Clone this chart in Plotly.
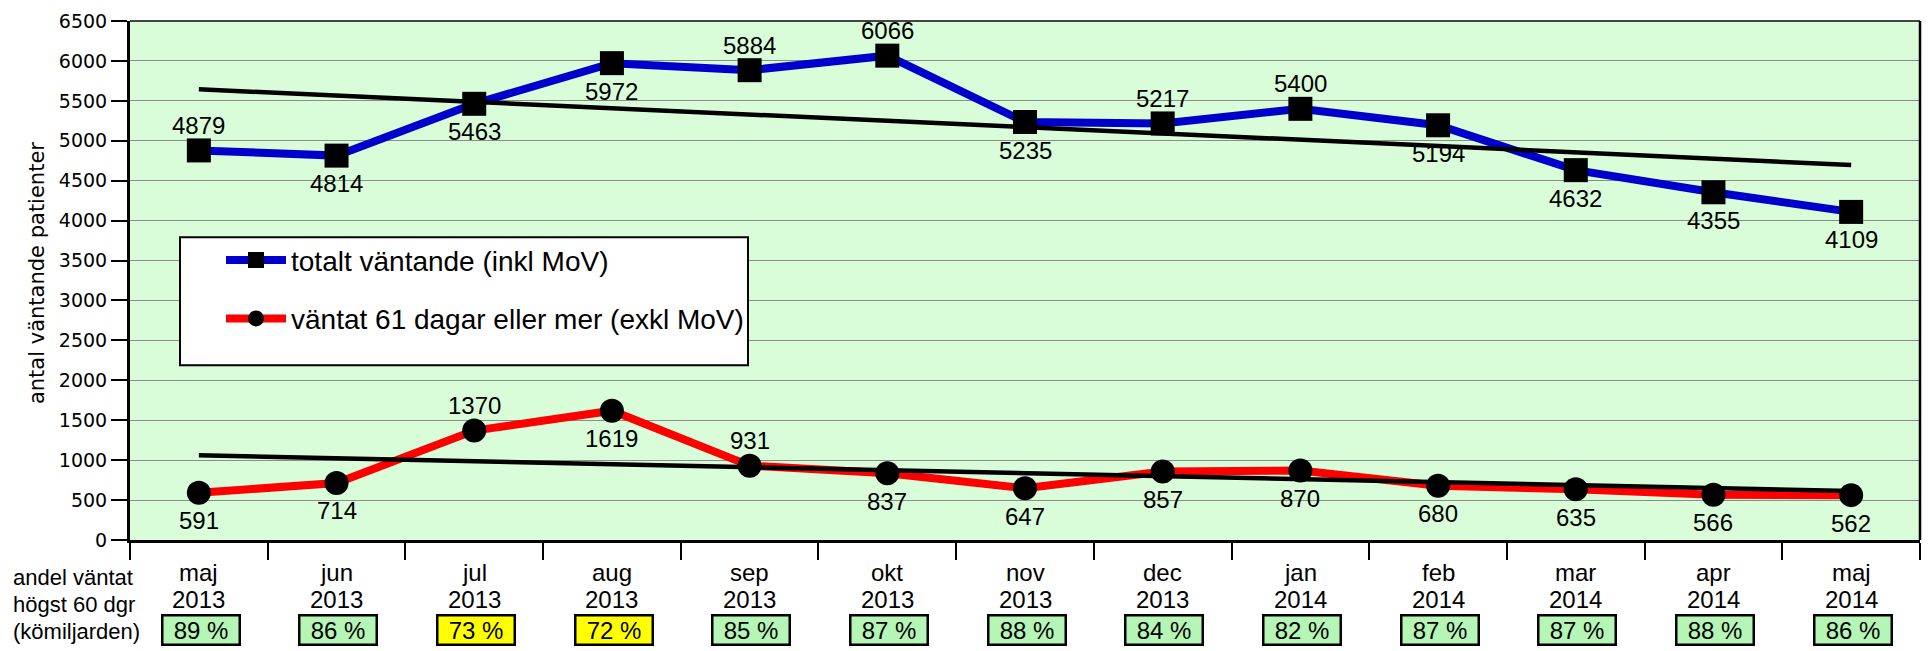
import numpy as np
import plotly.graph_objects as go

# ---- data ----
months = ["maj", "jun", "jul", "aug", "sep", "okt", "nov", "dec", "jan", "feb", "mar", "apr", "maj"]
years = ["2013", "2013", "2013", "2013", "2013", "2013", "2013", "2013", "2014", "2014", "2014", "2014", "2014"]
total_waiting = [4879, 4814, 5463, 5972, 5884, 6066, 5235, 5217, 5400, 5194, 4632, 4355, 4109]
waited_61_plus = [591, 714, 1370, 1619, 931, 837, 647, 857, 870, 680, 635, 566, 562]
share_within_60 = [89, 86, 73, 72, 85, 87, 88, 84, 82, 87, 87, 88, 86]
total_label_pos = ["a", "b", "b", "b", "a", "a", "b", "a", "a", "b", "b", "b", "b"]
late_label_pos = ["b", "b", "a", "b", "a", "b", "b", "b", "b", "b", "b", "b", "b"]

name_total = "totalt väntande (inkl MoV)"
name_late = "väntat 61 dagar eller mer (exkl MoV)"
ytitle = "antal väntande patienter"
side_lines = ["andel väntat", "högst 60 dgr", "(kömiljarden)"]

x = np.arange(len(months))

W, H = 1930, 651
L, R, T, B = 130, 10, 17, 111
plot_w = W - L - R
plot_h = H - T - B


def py(p):
    """pixel y -> paper y"""
    return (H - B - p) / plot_h


def px_(p):
    """pixel x -> paper x"""
    return (p - L) / plot_w


ARIAL = "Liberation Sans, Arial, sans-serif"
DEJAVU = "DejaVu Sans, Verdana, sans-serif"

fig = go.Figure()

fig.add_trace(go.Scatter(
    x=x, y=total_waiting, mode="lines+markers", name=name_total,
    line=dict(color="#0000cc", width=8),
    marker=dict(symbol="square", size=24, color="black"),
    legendgroup="a",
))
fig.add_trace(go.Scatter(
    x=x, y=waited_61_plus, mode="lines+markers", name=name_late,
    line=dict(color="#ff0000", width=8),
    marker=dict(symbol="circle", size=24, color="black"),
    legendgroup="b",
))

# linear trend lines
for series in (total_waiting, waited_61_plus):
    k, m = np.polyfit(x, series, 1)
    fig.add_trace(go.Scatter(
        x=[x[0], x[-1]], y=[k * x[0] + m, k * x[-1] + m], mode="lines",
        line=dict(color="black", width=4.5), showlegend=False, hoverinfo="skip",
    ))

annotations = []
label_font = dict(family=ARIAL, size=24, color="black")
for series, positions in ((total_waiting, total_label_pos), (waited_61_plus, late_label_pos)):
    for i, (v, p) in enumerate(zip(series, positions)):
        annotations.append(dict(
            x=i, y=v, xref="x", yref="y", text=str(v), showarrow=False,
            font=label_font, yshift=25 if p == "a" else -28,
        ))

bottom_font = dict(family=ARIAL, size=24, color="black")
for i, (mo, yr, pct) in enumerate(zip(months, years, share_within_60)):
    annotations.append(dict(
        x=i, y=py(573), xref="x", yref="paper", text=mo,
        showarrow=False, font=bottom_font, yanchor="middle",
    ))
    annotations.append(dict(
        x=i, y=py(600), xref="x", yref="paper", text=yr,
        showarrow=False, font=bottom_font, yanchor="middle",
    ))
    annotations.append(dict(
        x=i + 0.012, y=py(630.5), xref="x", yref="paper", text=f"{pct} %",
        showarrow=False, font=bottom_font, yanchor="middle",
        bgcolor="#ffff00" if pct < 80 else "#b5f5b5",
        bordercolor="black", borderwidth=2.5, borderpad=1,
        width=73, height=25,
    ))

side_font = dict(family=ARIAL, size=22, color="black")
for j, line in enumerate(side_lines):
    annotations.append(dict(
        x=px_(11), y=py(578 + 27 * j), xref="paper", yref="paper", text=line,
        showarrow=False, font=side_font, xanchor="left", yanchor="middle", align="left",
    ))

annotations.append(dict(
    x=px_(37), y=py(271), xref="paper", yref="paper", text=ytitle, textangle=-90,
    showarrow=False, font=dict(family=DEJAVU, size=21, color="black"),
    xanchor="center", yanchor="middle",
))

shapes = [
    dict(type="line", xref="paper", yref="paper", x0=0, x1=1, y0=1, y1=1,
         line=dict(color="#444444", width=2)),
    dict(type="line", xref="paper", yref="paper", x0=1, x1=1, y0=0, y1=1,
         line=dict(color="black", width=2.5)),
    # legend frame
    dict(type="rect", xref="paper", yref="paper", layer="above",
         x0=px_(180), x1=px_(748), y0=py(364), y1=py(235),
         fillcolor="white", line=dict(color="black", width=2)),
]

fig.update_layout(
    width=W, height=H, autosize=False,
    margin=dict(l=L, r=R, t=T, b=B, pad=0),
    paper_bgcolor="white", plot_bgcolor="#d9fdd9",
    showlegend=True,
    legend=dict(
        x=px_(221), y=py(233), xanchor="left", yanchor="top",
        bgcolor="rgba(0,0,0,0)", borderwidth=0,
        font=dict(family=ARIAL, size=28, color="black"),
        tracegroupgap=19, itemwidth=60,
    ),
    xaxis=dict(
        range=[-0.5, len(months) - 0.5],
        tickvals=np.arange(-0.5, len(months), 1.0), showticklabels=False,
        ticks="outside", ticklen=17, tickwidth=1.5, tickcolor="black",
        showgrid=False, zeroline=False,
        showline=True, linecolor="black", linewidth=3,
    ),
    yaxis=dict(
        range=[0, 6500], dtick=500, tick0=0,
        ticks="outside", ticklen=16, tickwidth=1.5, tickcolor="black",
        tickfont=dict(family=DEJAVU, size=19, color="black"),
        showgrid=True, gridcolor="#8c8c8c", gridwidth=1,
        zeroline=False, showline=True, linecolor="black", linewidth=3,
    ),
    annotations=annotations, shapes=shapes,
)

fig.write_html("out.html", config={"displayModeBar": False},
               post_script="document.body.style.margin='0px';")
